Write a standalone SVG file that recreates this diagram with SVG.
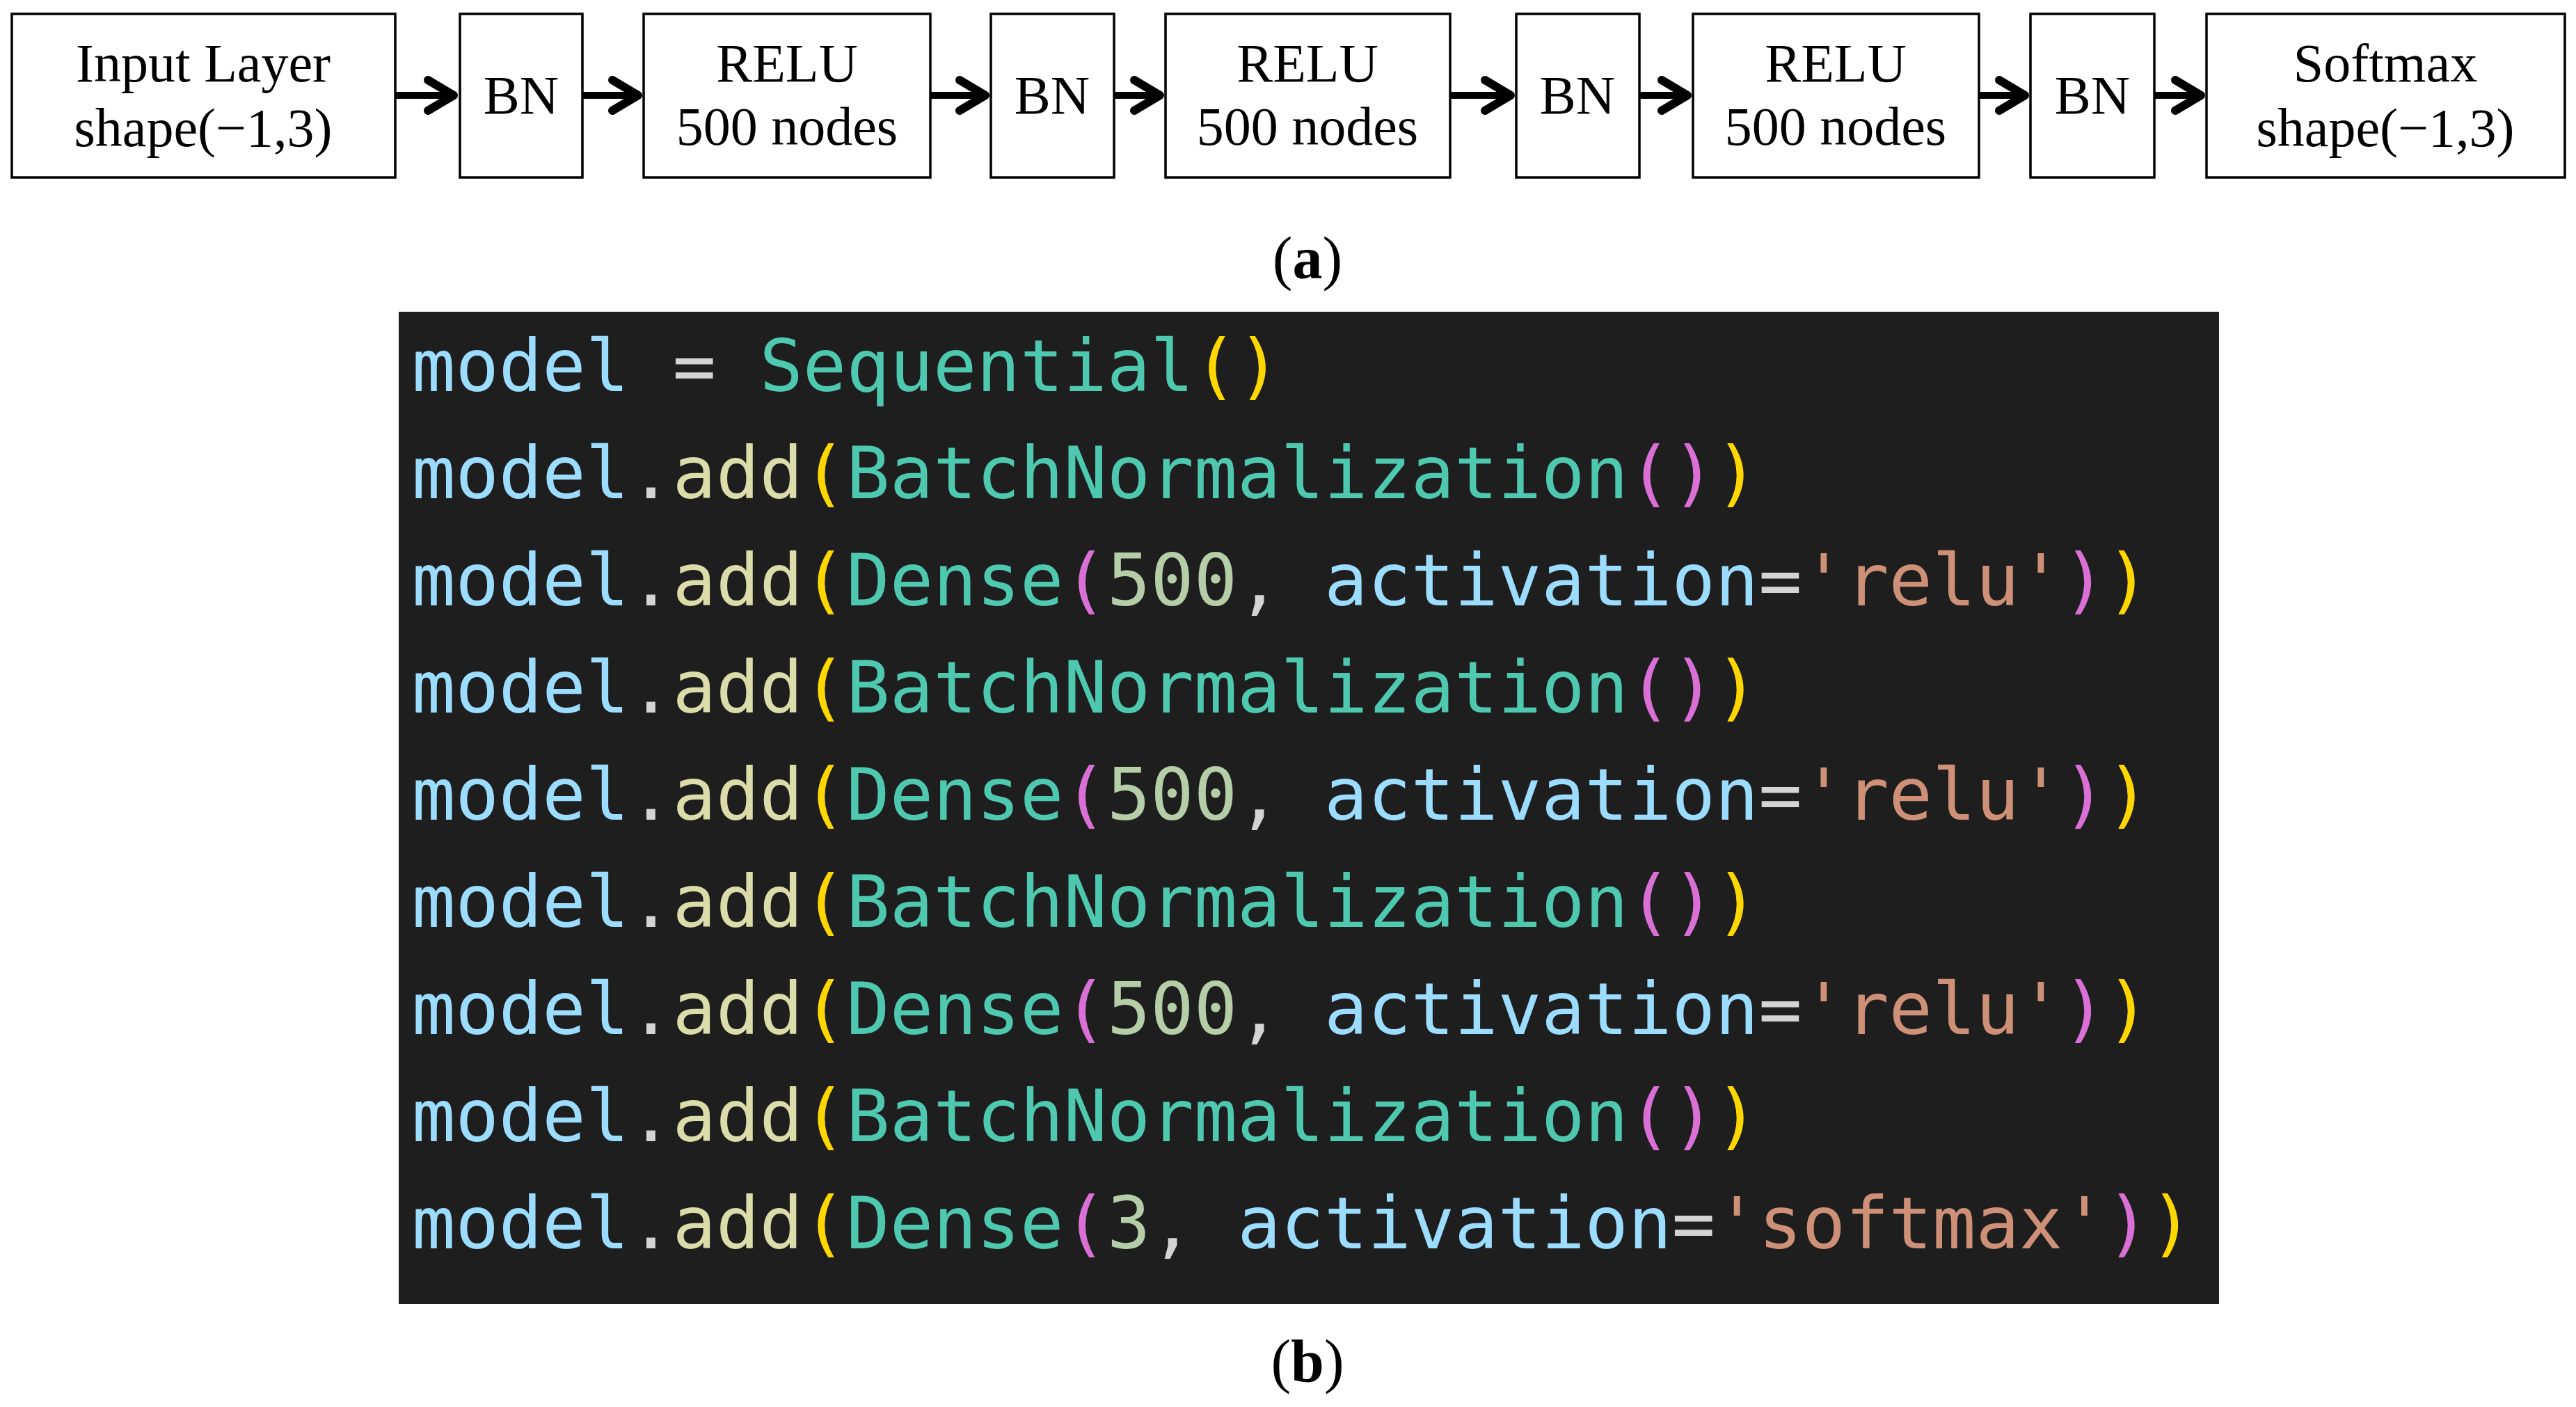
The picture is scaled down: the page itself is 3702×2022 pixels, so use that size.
<svg xmlns="http://www.w3.org/2000/svg" width="3702" height="2022" viewBox="0 0 3702 2022">
  <style>
    .box { fill: #ffffff; stroke: #000000; stroke-width: 3.5; }
    .lbl { font-family: "Liberation Serif", "Times New Roman", serif; font-size: 78px; fill: #000000; text-anchor: middle; }
    .cap { font-family: "Liberation Serif", "Times New Roman", serif; font-size: 86px; fill: #000000; text-anchor: middle; }
    .conn { fill: none; stroke: #000000; stroke-width: 10; }
    .code { font-family: "DejaVu Sans Mono", "Liberation Mono", monospace; font-size: 103.7px; white-space: pre; }
    .v { fill: #9CDCFE; }
    .o { fill: #D4D4D4; }
    .c { fill: #4EC9B0; }
    .f { fill: #DCDCAA; }
    .p1 { fill: #FFD700; }
    .p2 { fill: #DA70D6; }
    .n { fill: #B5CEA8; }
    .s { fill: #CE9178; }
  </style>
  <defs>
    <marker id="ah" markerUnits="userSpaceOnUse" markerWidth="80" markerHeight="80" viewBox="-50 -40 80 80" refX="0" refY="0" orient="auto" overflow="visible">
      <path d="M-37,-22 L0,0 L-37,22" fill="none" stroke="#000000" stroke-width="12" stroke-linecap="round" stroke-linejoin="round"/>
    </marker>
  </defs>
  <rect width="3702" height="2022" fill="#ffffff"/>

  <g id="connectors">
    <path class="conn" d="M568,137 H652" marker-end="url(#ah)"/>
    <path class="conn" d="M837,137 H917" marker-end="url(#ah)"/>
    <path class="conn" d="M1337,137 H1416" marker-end="url(#ah)"/>
    <path class="conn" d="M1601,137 H1667" marker-end="url(#ah)"/>
    <path class="conn" d="M2084,137 H2171" marker-end="url(#ah)"/>
    <path class="conn" d="M2356,137 H2425" marker-end="url(#ah)"/>
    <path class="conn" d="M2844,137 H2910" marker-end="url(#ah)"/>
    <path class="conn" d="M3096,137 H3163" marker-end="url(#ah)"/>
  </g>

  <g id="input">
    <rect class="box" x="17" y="20" width="551" height="235"/>
    <text class="lbl" x="292" y="117">Input Layer</text>
    <text class="lbl" x="292" y="210">shape(−1,3)</text>
  </g>
  <g id="bn1">
    <rect class="box" x="661" y="20" width="176" height="235"/>
    <text class="lbl" x="749" y="163">BN</text>
  </g>
  <g id="relu1">
    <rect class="box" x="925" y="20" width="412" height="235"/>
    <text class="lbl" x="1131" y="117">RELU</text>
    <text class="lbl" x="1131" y="208">500 nodes</text>
  </g>
  <g id="bn2">
    <rect class="box" x="1424" y="20" width="177" height="235"/>
    <text class="lbl" x="1512" y="163">BN</text>
  </g>
  <g id="relu2">
    <rect class="box" x="1675" y="20" width="409" height="235"/>
    <text class="lbl" x="1879" y="117">RELU</text>
    <text class="lbl" x="1879" y="208">500 nodes</text>
  </g>
  <g id="bn3">
    <rect class="box" x="2179" y="20" width="177" height="235"/>
    <text class="lbl" x="2267" y="163">BN</text>
  </g>
  <g id="relu3">
    <rect class="box" x="2433" y="20" width="411" height="235"/>
    <text class="lbl" x="2638" y="117">RELU</text>
    <text class="lbl" x="2638" y="208">500 nodes</text>
  </g>
  <g id="bn4">
    <rect class="box" x="2918" y="20" width="178" height="235"/>
    <text class="lbl" x="3007" y="163">BN</text>
  </g>
  <g id="softmax">
    <rect class="box" x="3171" y="20" width="515" height="235"/>
    <text class="lbl" x="3428" y="117">Softmax</text>
    <text class="lbl" x="3428" y="210">shape(−1,3)</text>
  </g>

  <g id="caption-a">
    <text class="cap" x="1879" y="400">(<tspan font-weight="bold">a</tspan>)</text>
  </g>

  <g id="code">
    <rect x="573" y="448" width="2616" height="1426" fill="#1E1E1E"/>
    <text class="code" x="592" y="562" xml:space="preserve"><tspan class="v">model</tspan><tspan class="o"> = </tspan><tspan class="c">Sequential</tspan><tspan class="p1">()</tspan></text>
    <text class="code" x="592" y="716" xml:space="preserve"><tspan class="v">model</tspan><tspan class="o">.</tspan><tspan class="f">add</tspan><tspan class="p1">(</tspan><tspan class="c">BatchNormalization</tspan><tspan class="p2">()</tspan><tspan class="p1">)</tspan></text>
    <text class="code" x="592" y="870" xml:space="preserve"><tspan class="v">model</tspan><tspan class="o">.</tspan><tspan class="f">add</tspan><tspan class="p1">(</tspan><tspan class="c">Dense</tspan><tspan class="p2">(</tspan><tspan class="n">500</tspan><tspan class="o">, </tspan><tspan class="v">activation</tspan><tspan class="o">=</tspan><tspan class="s">'relu'</tspan><tspan class="p2">)</tspan><tspan class="p1">)</tspan></text>
    <text class="code" x="592" y="1024" xml:space="preserve"><tspan class="v">model</tspan><tspan class="o">.</tspan><tspan class="f">add</tspan><tspan class="p1">(</tspan><tspan class="c">BatchNormalization</tspan><tspan class="p2">()</tspan><tspan class="p1">)</tspan></text>
    <text class="code" x="592" y="1178" xml:space="preserve"><tspan class="v">model</tspan><tspan class="o">.</tspan><tspan class="f">add</tspan><tspan class="p1">(</tspan><tspan class="c">Dense</tspan><tspan class="p2">(</tspan><tspan class="n">500</tspan><tspan class="o">, </tspan><tspan class="v">activation</tspan><tspan class="o">=</tspan><tspan class="s">'relu'</tspan><tspan class="p2">)</tspan><tspan class="p1">)</tspan></text>
    <text class="code" x="592" y="1332" xml:space="preserve"><tspan class="v">model</tspan><tspan class="o">.</tspan><tspan class="f">add</tspan><tspan class="p1">(</tspan><tspan class="c">BatchNormalization</tspan><tspan class="p2">()</tspan><tspan class="p1">)</tspan></text>
    <text class="code" x="592" y="1486" xml:space="preserve"><tspan class="v">model</tspan><tspan class="o">.</tspan><tspan class="f">add</tspan><tspan class="p1">(</tspan><tspan class="c">Dense</tspan><tspan class="p2">(</tspan><tspan class="n">500</tspan><tspan class="o">, </tspan><tspan class="v">activation</tspan><tspan class="o">=</tspan><tspan class="s">'relu'</tspan><tspan class="p2">)</tspan><tspan class="p1">)</tspan></text>
    <text class="code" x="592" y="1640" xml:space="preserve"><tspan class="v">model</tspan><tspan class="o">.</tspan><tspan class="f">add</tspan><tspan class="p1">(</tspan><tspan class="c">BatchNormalization</tspan><tspan class="p2">()</tspan><tspan class="p1">)</tspan></text>
    <text class="code" x="592" y="1794" xml:space="preserve"><tspan class="v">model</tspan><tspan class="o">.</tspan><tspan class="f">add</tspan><tspan class="p1">(</tspan><tspan class="c">Dense</tspan><tspan class="p2">(</tspan><tspan class="n">3</tspan><tspan class="o">, </tspan><tspan class="v">activation</tspan><tspan class="o">=</tspan><tspan class="s">'softmax'</tspan><tspan class="p2">)</tspan><tspan class="p1">)</tspan></text>
  </g>

  <g id="caption-b">
    <text class="cap" x="1879" y="1985">(<tspan font-weight="bold">b</tspan>)</text>
  </g>
</svg>
